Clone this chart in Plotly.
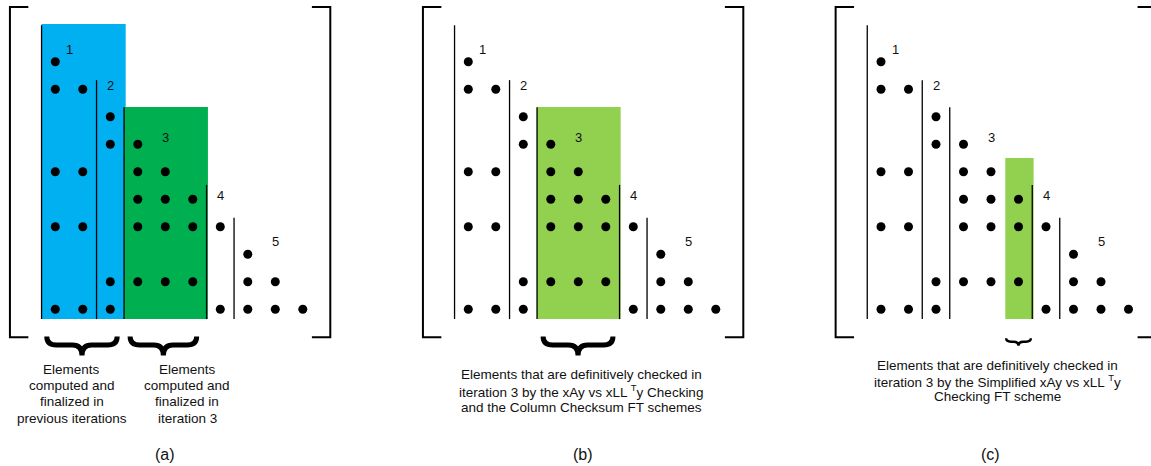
import plotly.graph_objects as go

W, H = 1151, 466

# ---------------- data ----------------
# nonzero pattern of the lower-triangular factor (row, col), 0-indexed
dot_rows = [0, 1, 1, 2, 3, 3, 4, 4, 4, 4, 5, 5, 5, 6, 6, 6, 6, 6, 6, 7,
            8, 8, 8, 8, 8, 8, 9, 9, 9, 9, 9, 9, 9]
dot_cols = [0, 0, 1, 2, 2, 3, 0, 1, 3, 4, 3, 4, 5, 0, 1, 3, 4, 5, 6, 7,
            2, 3, 4, 5, 7, 8, 0, 1, 2, 6, 7, 8, 9]

# supernodes
sn_labels = ["1", "2", "3", "4", "5"]
sn_first_col = [0, 2, 3, 6, 7]
sn_line_top = [-1.33, 0.67, 1.66, 4.48, 5.67]
sn_label_col = [0.53, 2.0, 4.02, 6.0, 8.0]
sn_label_row = [-0.46, 0.88, 2.74, 4.88, 6.52]
sn_line_bottom = 9.36

panel_names = ["(a)", "(b)", "(c)"]
panel_name_col = [4.0, 4.17, 3.99]
panel_name_row = 14.30

# highlighted regions per panel: (col_from, col_to, row_top, colour)
highlights = [
    [(-0.5, 2.56, -1.37, "#00B0F0"), (2.5, 5.55, 1.65, "#00B050")],
    [(2.49, 5.54, 1.65, "#92D050")],
    [(4.52, 5.55, 3.5, "#92D050")],
]
highlight_bottom = 9.36

# braces: (panel, col_from, col_to, row_top, row_bottom, stroke)
braces = [
    (0, -0.31, 2.25, 9.99, 10.68, 5),
    (0, 2.72, 5.14, 9.99, 10.68, 5),
    (1, 2.72, 5.26, 9.99, 10.68, 5),
    (2, 4.55, 5.45, 10.06, 10.33, 2.4),
]

# matrix brackets
bracket_left, bracket_right = -1.65, 10.0
bracket_top, bracket_bottom = -1.99, 10.02
bracket_arm = 0.67

# captions: (panel, centre col, rows, lines)
captions = [
    (0, 0.59, [11.19, 11.78, 12.36, 12.97],
     ["Elements", "computed and", "finalized in", "previous iterations"]),
    (0, 4.80, [11.19, 11.78, 12.36, 12.97],
     ["Elements", "computed and", "finalized in", "iteration 3"]),
    (1, 4.10, [11.36, 11.97, 12.56],
     ["Elements that are definitively checked in",
      "iteration 3 by the xAy vs xLL <sup>T</sup>y Checking",
      "and the Column Checksum FT schemes"]),
    (2, 4.24, [11.03, 11.60, 12.18],
     ["Elements that are definitively checked in",
      "iteration 3 by the Simplified xAy vs xLL <sup>T</sup>y",
      "Checking FT scheme"]),
]

# ---------------- layout geometry ----------------
panel_origin_px = [55.3, 468.3, 881.0]   # pixel x of column 0 in each panel
cell_px = 27.5
row0_px = 61.7

FONT = "Arial, Liberation Sans, sans-serif"
xrefs = ["x", "x2", "x3"]

fig = go.Figure()
shapes = []
annotations = []

for p in range(3):
    xr = xrefs[p]
    # dots
    fig.add_trace(go.Scatter(
        x=dot_cols, y=dot_rows, xaxis=xr, yaxis="y", mode="markers",
        marker=dict(size=9, color="black"), hoverinfo="skip", showlegend=False))
    # highlight rectangles
    for (c0, c1, rt, col) in highlights[p]:
        shapes.append(dict(type="rect", xref=xr, yref="y", x0=c0, x1=c1,
                           y0=rt, y1=highlight_bottom, fillcolor=col,
                           line=dict(width=0), layer="below"))
    # supernode separator lines and labels
    for k in range(len(sn_labels)):
        xc = sn_first_col[k] - 0.5
        shapes.append(dict(type="line", xref=xr, yref="y", x0=xc, x1=xc,
                           y0=sn_line_top[k], y1=sn_line_bottom,
                           line=dict(color="black", width=1.3)))
        annotations.append(dict(xref=xr, yref="y", x=sn_label_col[k],
                                y=sn_label_row[k], text=sn_labels[k],
                                showarrow=False, xanchor="center", yanchor="middle",
                                font=dict(family=FONT, size=13, color="#111")))
    # brackets
    a = bracket_arm
    shapes.append(dict(type="path", xref=xr, yref="y",
                       path=f"M {bracket_left + a},{bracket_top} L {bracket_left},{bracket_top} "
                            f"L {bracket_left},{bracket_bottom} L {bracket_left + a},{bracket_bottom}",
                       line=dict(color="black", width=2)))
    shapes.append(dict(type="path", xref=xr, yref="y",
                       path=f"M {bracket_right - a},{bracket_top} L {bracket_right},{bracket_top} "
                            f"L {bracket_right},{bracket_bottom} L {bracket_right - a},{bracket_bottom}",
                       line=dict(color="black", width=2)))
    # panel name
    annotations.append(dict(xref=xr, yref="y", x=panel_name_col[p], y=panel_name_row,
                            text=panel_names[p], showarrow=False,
                            xanchor="center", yanchor="middle",
                            font=dict(family=FONT, size=16, color="#111")))

# braces
for (p, x0, x1, yt, yb, sw) in braces:
    xr = xrefs[p]
    xc = (x0 + x1) / 2
    ym = yt + 0.45 * (yb - yt)
    r = min(0.35, (x1 - x0) / 5)
    path = (f"M {x0},{yt} Q {x0},{ym} {x0 + r},{ym} L {xc - r},{ym} "
            f"Q {xc},{ym} {xc},{yb} Q {xc},{ym} {xc + r},{ym} "
            f"L {x1 - r},{ym} Q {x1},{ym} {x1},{yt}")
    shapes.append(dict(type="path", xref=xr, yref="y", path=path,
                       line=dict(color="black", width=sw)))

# captions
for (p, cx, rows, lines) in captions:
    for ry, txt in zip(rows, lines):
        annotations.append(dict(xref=xrefs[p], yref="y", x=cx, y=ry, text=txt,
                                showarrow=False, xanchor="center", yanchor="middle",
                                font=dict(family=FONT, size=13.5, color="#111")))

layout = dict(
    width=W, height=H, margin=dict(l=0, r=0, t=0, b=0),
    paper_bgcolor="white", plot_bgcolor="white",
    shapes=shapes, annotations=annotations, showlegend=False,
    yaxis=dict(range=[(H - row0_px) / cell_px, (0 - row0_px) / cell_px],
               visible=False, fixedrange=True),
)
for p in range(3):
    key = "xaxis" if p == 0 else f"xaxis{p + 1}"
    ax = dict(range=[(0 - panel_origin_px[p]) / cell_px, (W - panel_origin_px[p]) / cell_px],
              visible=False, fixedrange=True, anchor="y", domain=[0, 1])
    if p > 0:
        ax["overlaying"] = "x"
    layout[key] = ax

fig.update_layout(**layout)
fig.write_html("out.html")
